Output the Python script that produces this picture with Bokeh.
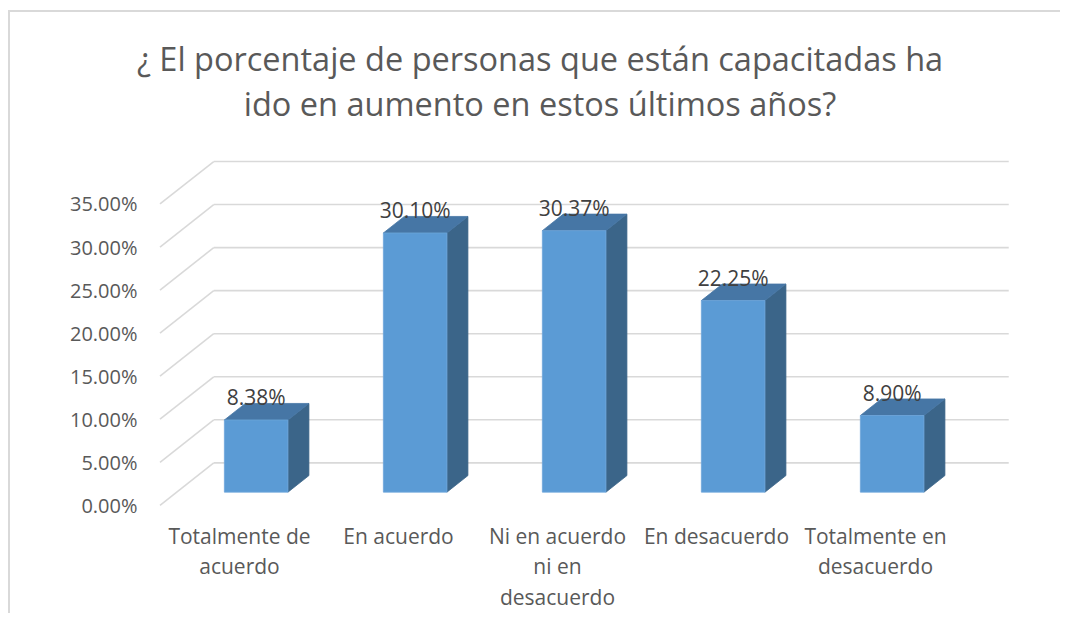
from bokeh.plotting import figure
from bokeh.models import FixedTicker, PrintfTickFormatter, ColumnDataSource, Div
from bokeh.layouts import column
from bokeh.embed import file_html
from bokeh.resources import INLINE
from bokeh.core.properties import value

# ---------------- data ----------------
title_lines = ["¿ El porcentaje de personas que están capacitadas ha",
               "ido en aumento en estos últimos años?"]
categories = ["Totalmente de\nacuerdo", "En acuerdo", "Ni en acuerdo\nni en\ndesacuerdo",
              "En desacuerdo", "Totalmente en\ndesacuerdo"]
values = [8.38, 30.10, 30.37, 22.25, 8.90]
value_labels = ["8.38%", "30.10%", "30.37%", "22.25%", "8.90%"]
y_ticks = [0, 5, 10, 15, 20, 25, 30, 35]

# ---------------- 3D projection parameters ----------------
DX = 0.338   # wall depth along x (category units)
DY = 4.93    # wall depth along y (percent units)
F0 = 0.31    # depth fraction where bar front face sits
FB = 0.39    # bar depth fraction
BW = 0.40    # bar width (category units)

FONT = "Open Sans"
GRID = "#D9D9D9"

p = figure(frame_width=876, frame_height=362,
           x_range=(-0.0975, 5.412), y_range=(-0.836, 41.21),
           output_backend="svg", toolbar_location=None, title_location=None,
           min_border_left=134, min_border_right=40,
           min_border_top=20, min_border_bottom=95)
p.background_fill_color = "white"
p.border_fill_color = "white"
p.outline_line_color = None
p.grid.visible = False

# ---------------- gridlines (back wall + left wall diagonals) ----------------
n = len(categories)
gx, gy = [], []
for v in y_ticks:
    gx.append([DX, n + DX]); gy.append([v + DY, v + DY])
    gx.append([0, DX]); gy.append([v, v + DY])
p.multi_line(gx, gy, line_color=GRID, line_width=1.6)

# ---------------- bars ----------------
fx, fy, tx, ty, sx, sy = [], [], [], [], [], []
lx, ly = [], []
for i, v in enumerate(values):
    xc = i + 0.5 + F0 * DX
    x0, x1 = xc - BW / 2, xc + BW / 2
    yb = F0 * DY
    yt = yb + v
    ddx, ddy = FB * DX, FB * DY
    fx.append([x0, x1, x1, x0]); fy.append([yb, yb, yt, yt])
    tx.append([x0, x1, x1 + ddx, x0 + ddx]); ty.append([yt, yt, yt + ddy, yt + ddy])
    sx.append([x1, x1 + ddx, x1 + ddx, x1]); sy.append([yb, yb + ddy, yt + ddy, yt])
    lx.append(xc); ly.append(yt + ddy)

p.patches(sx, sy, fill_color="#3B6589", line_color="#3B6589", line_width=0.8)
p.patches(tx, ty, fill_color="#4676A5", line_color="#4676A5", line_width=0.8)
p.patches(fx, fy, fill_color="#5B9BD5", line_color="#6FA6DA", line_width=0.8)

src = ColumnDataSource(dict(x=lx, y=ly, t=value_labels))
p.text(x="x", y="y", text="t", source=src, text_align="center",
       text_baseline="alphabetic", y_offset=-6,
       text_font=value(FONT), text_font_size="21px", text_color="#404040")

# ---------------- axes ----------------
p.yaxis.ticker = FixedTicker(ticks=y_ticks)
p.yaxis.formatter = PrintfTickFormatter(format="%.2f%%")
p.yaxis.axis_line_color = None
p.yaxis.major_tick_line_color = None
p.yaxis.minor_tick_line_color = None
p.yaxis.major_tick_out = 0
p.yaxis.minor_tick_out = 0
p.yaxis.major_label_standoff = 7
p.yaxis.major_label_text_font = FONT
p.yaxis.major_label_text_font_size = "20px"
p.yaxis.major_label_text_color = "#595959"

xt = [i + 0.5 for i in range(n)]
p.xaxis.ticker = FixedTicker(ticks=xt)
p.xaxis.major_label_overrides = {t: c for t, c in zip(xt, categories)}
p.xaxis.axis_line_color = None
p.xaxis.major_tick_line_color = None
p.xaxis.minor_tick_line_color = None
p.xaxis.major_tick_out = 0
p.xaxis.minor_tick_out = 0
p.xaxis.major_label_standoff = 9
p.xaxis.major_label_text_font = FONT
p.xaxis.major_label_text_font_size = "21px"
p.xaxis.major_label_text_color = "#595959"
p.xaxis.major_label_text_line_height = 1.09

# ---------------- title ----------------
title_html = (
    '<div style="width:1040px; margin-left:10px; padding-top:24px; text-align:center; '
    "font-family:'Open Sans'; font-size:32.5px; line-height:45px; color:#595959;\">"
    + title_lines[0] + "<br>" + title_lines[1] + "</div>"
)
title_div = Div(text=title_html, width=1050, height=118, margin=(0, 0, 0, 0))

layout = column(title_div, p, spacing=0)
layout.styles = {"border-left": "2px solid #D9D9D9", "border-top": "2px solid #D9D9D9",
                 "margin-left": "8px", "margin-top": "10px", "background": "white"}

open("out.html", "w").write(file_html(layout, INLINE))
